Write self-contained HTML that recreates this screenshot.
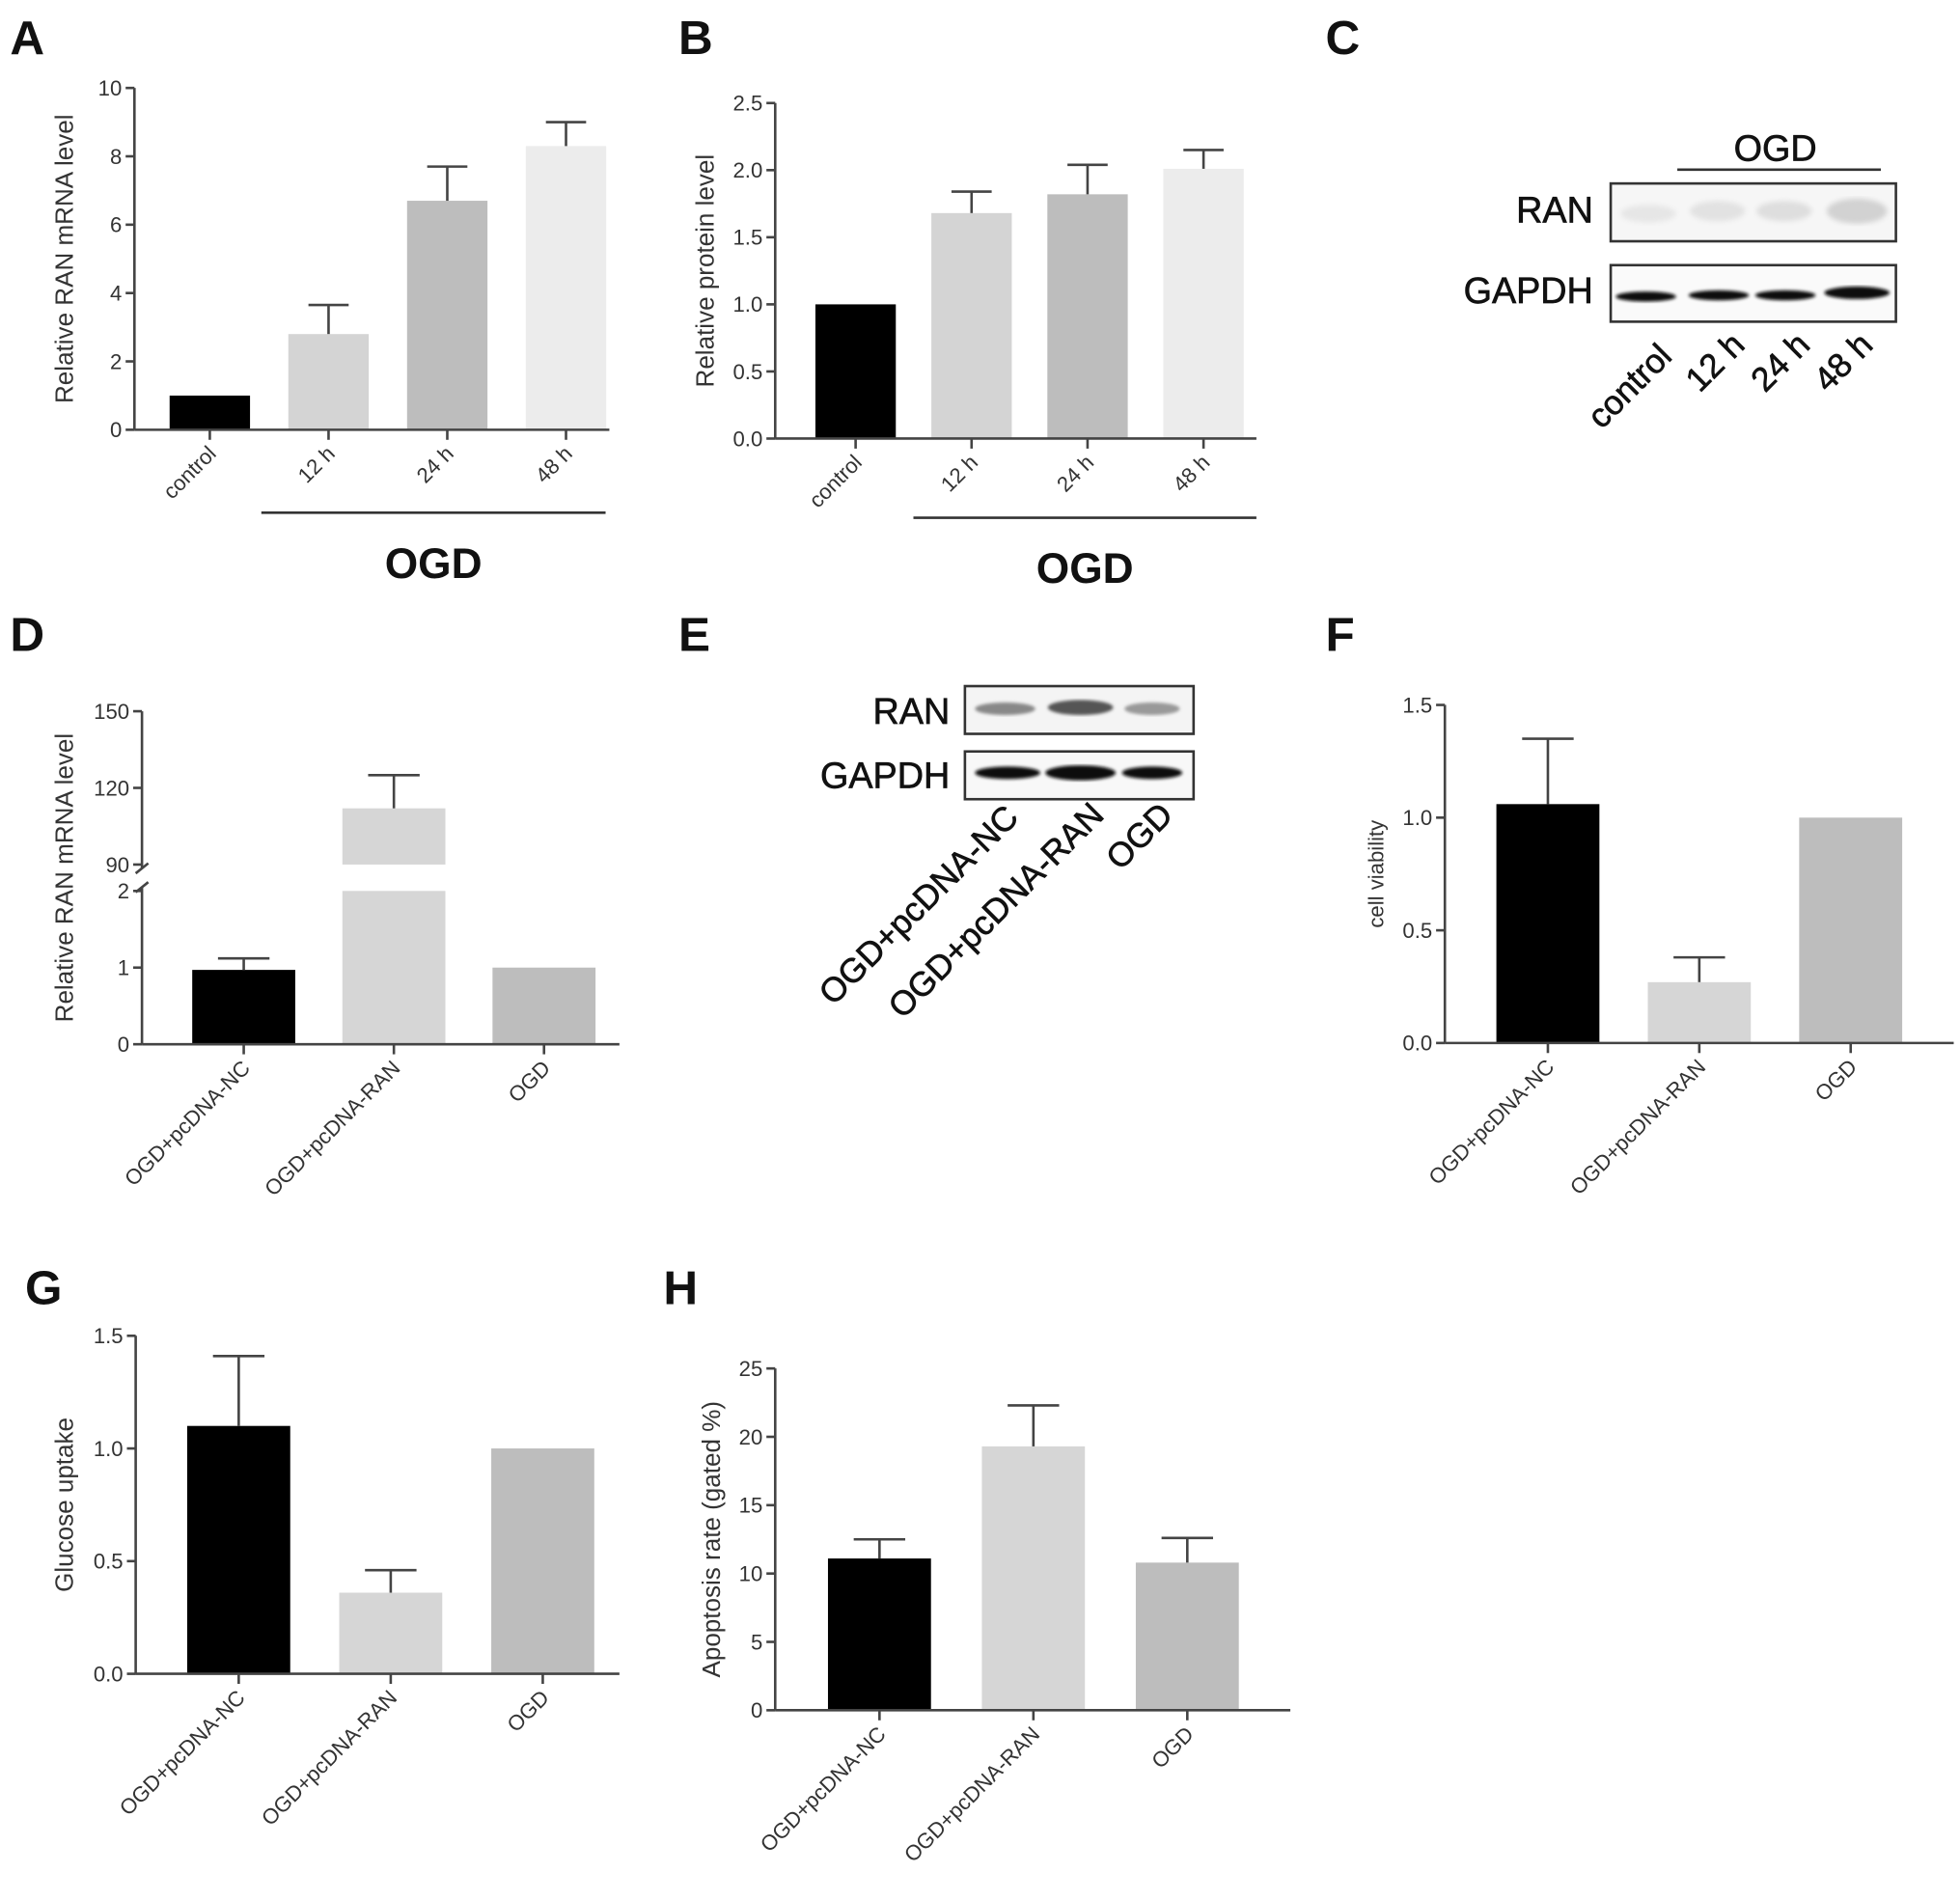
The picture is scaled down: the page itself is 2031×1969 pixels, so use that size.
<!DOCTYPE html>
<html><head><meta charset="utf-8"><style>
html,body{margin:0;padding:0;background:#fff;}
svg{display:block;font-family:"Liberation Sans",Arial,sans-serif;}
</style></head><body>
<svg id="fig" width="2031" height="1969" viewBox="0 0 1560 1512" preserveAspectRatio="none" xmlns="http://www.w3.org/2000/svg">
<defs>
<filter id="blur1"><feGaussianBlur stdDeviation="2"/></filter>
<filter id="blur2"><feGaussianBlur stdDeviation="1.2"/></filter>
</defs>
<g id="letters" font-weight="bold" font-size="38" fill="#111">
<text x="8" y="43">A</text>
<text x="540" y="43">B</text>
<text x="1055" y="43">C</text>
<text x="8" y="518">D</text>
<text x="540" y="518">E</text>
<text x="1055" y="518">F</text>
<text x="20" y="1038">G</text>
<text x="528" y="1038">H</text>
</g>

<!-- Panel C blot -->
<g>
<text x="1413" y="128" font-size="29" text-anchor="middle" fill="#111" stroke="#111" stroke-width="0.5">OGD</text>
<line x1="1335" y1="135" x2="1497" y2="135" stroke="#333" stroke-width="2"/>
<text x="1268" y="177" font-size="29" text-anchor="end" fill="#111" stroke="#111" stroke-width="0.5">RAN</text>
<text x="1268" y="241" font-size="29" text-anchor="end" fill="#111" stroke="#111" stroke-width="0.5">GAPDH</text>
<rect x="1282" y="146" width="227" height="46" fill="#f6f6f6" stroke="#333" stroke-width="2"/>
<g filter="url(#blur1)">
<ellipse cx="1312" cy="170" rx="22" ry="7" fill="#e6e6e6"/>
<ellipse cx="1367" cy="168" rx="22" ry="8" fill="#e2e2e2"/>
<ellipse cx="1420" cy="168" rx="22" ry="8" fill="#dedede"/>
<ellipse cx="1478" cy="168" rx="24" ry="10" fill="#d2d2d2"/>
</g>
<rect x="1282" y="211" width="227" height="45" fill="#fafafa" stroke="#333" stroke-width="2"/>
<g filter="url(#blur2)" fill="#111">
<ellipse cx="1310" cy="236" rx="24" ry="4"/>
<ellipse cx="1368" cy="235" rx="24" ry="4"/>
<ellipse cx="1421" cy="235" rx="24" ry="4"/>
<ellipse cx="1478" cy="233" rx="26" ry="5"/>
</g>
<g font-size="27" fill="#111" text-anchor="end" stroke="#111" stroke-width="0.5">
<text transform="translate(1332,285) rotate(-45)">control</text>
<text transform="translate(1390,276) rotate(-45)">12 h</text>
<text transform="translate(1442,276) rotate(-45)">24 h</text>
<text transform="translate(1492,276) rotate(-45)">48 h</text>
</g>
</g>

<!-- Panel E blot -->
<g>
<text x="756" y="576" font-size="29" text-anchor="end" fill="#111" stroke="#111" stroke-width="0.5">RAN</text>
<text x="756" y="627" font-size="29" text-anchor="end" fill="#111" stroke="#111" stroke-width="0.5">GAPDH</text>
<rect x="768" y="546" width="182" height="38" fill="#f4f4f4" stroke="#333" stroke-width="2"/>
<g filter="url(#blur2)">
<ellipse cx="800" cy="564" rx="24" ry="5" fill="#888"/>
<ellipse cx="860" cy="563" rx="26" ry="6" fill="#555"/>
<ellipse cx="917" cy="564" rx="22" ry="5" fill="#999"/>
</g>
<rect x="768" y="598" width="182" height="38" fill="#f8f8f8" stroke="#333" stroke-width="2"/>
<g filter="url(#blur2)" fill="#111">
<ellipse cx="802" cy="615" rx="26" ry="5"/>
<ellipse cx="860" cy="615" rx="28" ry="6"/>
<ellipse cx="917" cy="615" rx="24" ry="5"/>
</g>
<g font-size="27" fill="#111" text-anchor="end" stroke="#111" stroke-width="0.5">
<text transform="translate(812,652) rotate(-45)">OGD+pcDNA-NC</text>
<text transform="translate(880,650) rotate(-45)">OGD+pcDNA-RAN</text>
<text transform="translate(935,650) rotate(-45)">OGD</text>
</g>
</g>
<g id="charts"></g>
</svg>
<script>
// Panel A
const catsA = ["control","12 h","24 h","48 h"];
const valsA = [1.0, 2.8, 6.7, 8.3];
const errA = [1.0, 3.65, 7.7, 9.0];
const ticksA = [0,2,4,6,8,10];
// Panel B
const catsB = ["control","12 h","24 h","48 h"];
const valsB = [1.0, 1.68, 1.82, 2.01];
const errB = [1.0, 1.84, 2.04, 2.15];
const ticksB = [0,0.5,1.0,1.5,2.0,2.5];
// Panel D (broken axis)
const catsD = ["OGD+pcDNA-NC","OGD+pcDNA-RAN","OGD"];
const valsD = [0.97, 112, 1.0];
const errD = [1.12, 125, 1.0];
const ticksDLow = [0,1,2];
const ticksDHigh = [90,120,150];
// Panel F
const catsF = ["OGD+pcDNA-NC","OGD+pcDNA-RAN","OGD"];
const valsF = [1.06, 0.27, 1.0];
const errF = [1.35, 0.38, 1.0];
const ticksF = [0,0.5,1.0,1.5];
// Panel G
const catsG = ["OGD+pcDNA-NC","OGD+pcDNA-RAN","OGD"];
const valsG = [1.1, 0.36, 1.0];
const errG = [1.41, 0.46, 1.0];
const ticksG = [0,0.5,1.0,1.5];
// Panel H
const catsH = ["OGD+pcDNA-NC","OGD+pcDNA-RAN","OGD"];
const valsH = [11.1, 19.3, 10.8];
const errH = [12.5, 22.3, 12.6];
const ticksH = [0,5,10,15,20,25];

const NS="http://www.w3.org/2000/svg";
const root=document.getElementById('charts');
function mk(tag,attrs,parent){const e=document.createElementNS(NS,tag);for(const k in attrs)e.setAttribute(k,attrs[k]);(parent||root).appendChild(e);return e;}
const AX="#444", TXT="#333";

function chart(o){
  const g=mk('g',{});
  
  
  const y=v=>o.y0-(v-o.vmin)/(o.vmax-o.vmin)*(o.y0-o.ytop);
  const xc=i=>o.xs+o.pad+i*o.step;
  o.vals.forEach((v,i)=>{
    const b=mk('rect',{x:xc(i)-o.bw/2,y:y(v),width:o.bw,height:o.y0-y(v),fill:o.colors[i]},g);
    
    
    const e=o.errs[i];
    if(e>v){
      mk('line',{x1:xc(i),x2:xc(i),y1:y(v),y2:y(e),stroke:AX,'stroke-width':2},g);
      mk('line',{x1:xc(i)-o.bw/4,x2:xc(i)+o.bw/4,y1:y(e),y2:y(e),stroke:AX,'stroke-width':2},g);
    }
  });
  const ya=mk('line',{x1:o.xs,x2:o.xs,y1:o.y0,y2:o.ytop,stroke:AX,'stroke-width':2},g);
  
  
  const xa=mk('line',{x1:o.xs,x2:o.xe,y1:o.y0,y2:o.y0,stroke:AX,'stroke-width':2},g);
  
  
  o.ticks.forEach(t=>{
    mk('line',{x1:o.xs-7,x2:o.xs,y1:y(t),y2:y(t),stroke:AX,'stroke-width':2},g);
    const tl=mk('text',{x:o.xs-10,y:y(t)+6,'font-size':17,'text-anchor':'end',fill:TXT},g);
    tl.textContent=o.fmt?o.fmt(t):String(t);
    
    
  });
  o.cats.forEach((c,i)=>{
    mk('line',{x1:xc(i),x2:xc(i),y1:o.y0,y2:o.y0+8,stroke:AX,'stroke-width':2},g);
    const t=mk('text',{transform:`translate(${xc(i)+6},${o.y0+20}) rotate(-45)`,'font-size':17,'text-anchor':'end',fill:TXT},g);
    t.textContent=c;
    
    
  });
  const yl=mk('text',{transform:`translate(${o.ylx},${(o.y0+o.ytop)/2}) rotate(-90)`,'font-size':o.ylfs||20,'text-anchor':'middle',fill:TXT},g);
  yl.textContent=o.ylabel;
  
  
  if(o.ogd){
    mk('line',{x1:o.ogd[0],x2:o.ogd[1],y1:o.ogd[2],y2:o.ogd[2],stroke:'#333','stroke-width':2},g);
    const ot=mk('text',{x:(o.ogd[0]+o.ogd[1])/2,y:o.ogd[2]+52,'font-size':34,'font-weight':'bold','text-anchor':'middle',fill:'#111'},g);
    ot.textContent='OGD';
    
    
  }
}
const f1=t=>t.toFixed(1);
const col4=["#000","#d4d4d4","#bdbdbd","#ececec"];
const col3=["#000","#d6d6d6","#bdbdbd"];
chart({name:'chart-a',cats:catsA,vals:valsA,errs:errA,ticks:ticksA,xs:107,xe:485,pad:60,step:94.5,y0:342,ytop:70,vmin:0,vmax:10,bw:64,colors:col4,ylabel:'Relative RAN mRNA level',ylx:58,ogd:[208,482,408]});
chart({name:'chart-b',cats:catsB,vals:valsB,errs:errB,ticks:ticksB,xs:617,xe:1000,pad:64,step:92.3,y0:349,ytop:82,vmin:0,vmax:2.5,bw:64,colors:col4,ylabel:'Relative protein level',ylx:568,fmt:f1,ogd:[727,1000,412]});
chart({name:'chart-f',cats:catsF,vals:valsF,errs:errF,ticks:ticksF,xs:1150,xe:1555,pad:82,step:120.5,y0:830,ytop:561,vmin:0,vmax:1.5,bw:82,colors:col3,ylabel:'cell viability',ylx:1101,ylfs:17,fmt:f1});
chart({name:'chart-g',cats:catsG,vals:valsG,errs:errG,ticks:ticksG,xs:108,xe:493,pad:82,step:121,y0:1332,ytop:1063,vmin:0,vmax:1.5,bw:82,colors:col3,ylabel:'Glucose uptake',ylx:58,fmt:f1});
chart({name:'chart-h',cats:catsH,vals:valsH,errs:errH,ticks:ticksH,xs:617,xe:1027,pad:83,step:122.5,y0:1361,ytop:1089,vmin:0,vmax:25,bw:82,colors:col3,ylabel:'Apoptosis rate (gated %)',ylx:573});

// Panel D broken axis
(function(){
  const g=mk('g',{});
  
  
  const xs=113,xe=493,y0=831,lowTop=709,hiBot=688,hiTop=566;
  const yl=v=>y0-v/2*(y0-lowTop);
  const yh=v=>hiBot-(v-90)/60*(hiBot-hiTop);
  const yv=v=>v<=2?yl(v):yh(v);
  const bw=82;
  const xc=i=>xs+81+i*119.5;
  valsD.forEach((v,i)=>{
    let b;
    if(v<=2){
      b=mk('rect',{x:xc(i)-bw/2,y:yl(v),width:bw,height:y0-yl(v),fill:col3[i]},g);
    } else {
      b=mk('rect',{x:xc(i)-bw/2,y:lowTop,width:bw,height:y0-lowTop,fill:col3[i]},g);
      mk('rect',{x:xc(i)-bw/2,y:yh(v),width:bw,height:hiBot-yh(v),fill:col3[i]},g);
    }
    
    
    const e=errD[i];
    if(e>v){
      mk('line',{x1:xc(i),x2:xc(i),y1:yv(v),y2:yv(e),stroke:AX,'stroke-width':2},g);
      mk('line',{x1:xc(i)-bw/4,x2:xc(i)+bw/4,y1:yv(e),y2:yv(e),stroke:AX,'stroke-width':2},g);
    }
  });
  mk('line',{x1:xs,x2:xs,y1:y0,y2:lowTop-3,stroke:AX,'stroke-width':2},g);
  mk('line',{x1:xs,x2:xs,y1:hiBot+3,y2:hiTop,stroke:AX,'stroke-width':2},g);
  mk('line',{x1:xs-5,x2:xs+5,y1:lowTop+1,y2:lowTop-7,stroke:AX,'stroke-width':2},g);
  mk('line',{x1:xs-5,x2:xs+5,y1:hiBot+7,y2:hiBot-1,stroke:AX,'stroke-width':2},g);
  mk('line',{x1:xs,x2:xe,y1:y0,y2:y0,stroke:AX,'stroke-width':2},g);
  ticksDLow.forEach(t=>{
    mk('line',{x1:xs-7,x2:xs,y1:yl(t),y2:yl(t),stroke:AX,'stroke-width':2},g);
    const tl=mk('text',{x:xs-10,y:yl(t)+6,'font-size':17,'text-anchor':'end',fill:TXT},g);
    tl.textContent=String(t);
  });
  ticksDHigh.forEach(t=>{
    mk('line',{x1:xs-7,x2:xs,y1:yh(t),y2:yh(t),stroke:AX,'stroke-width':2},g);
    const tl=mk('text',{x:xs-10,y:yh(t)+6,'font-size':17,'text-anchor':'end',fill:TXT},g);
    tl.textContent=String(t);
  });
  catsD.forEach((c,i)=>{
    mk('line',{x1:xc(i),x2:xc(i),y1:y0,y2:y0+8,stroke:AX,'stroke-width':2},g);
    const t=mk('text',{transform:`translate(${xc(i)+6},${y0+20}) rotate(-45)`,'font-size':17,'text-anchor':'end',fill:TXT},g);
    t.textContent=c;
  });
  const yt=mk('text',{transform:`translate(58,${(y0+hiTop)/2}) rotate(-90)`,'font-size':20,'text-anchor':'middle',fill:TXT},g);
  yt.textContent='Relative RAN mRNA level';
  
  
})();
</script>
</body></html>
